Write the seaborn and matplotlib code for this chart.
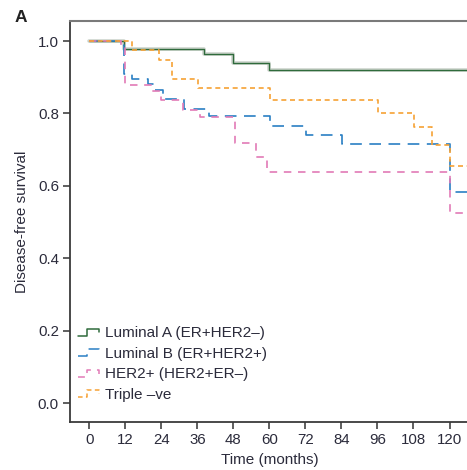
import matplotlib
matplotlib.use("Agg")
import matplotlib.pyplot as plt
import matplotlib.patheffects as pe
from matplotlib.lines import Line2D
from matplotlib.legend_handler import HandlerBase
import pandas as pd
import seaborn as sns

# Kaplan-Meier step estimates: event times (months) and survival after each step
groups = ["Luminal A (ER+HER2–)", "Luminal B (ER+HER2+)", "HER2+ (HER2+ER–)", "Triple –ve"]

lumA_t = [0, 11.5, 38.3, 48.0, 60.0, 127]
lumA_s = [1.0, 0.977, 0.965, 0.940, 0.921, 0.921]

lumB_t = [0, 10.0, 11.5, 14.3, 19.4, 21.4, 24.4, 31.4, 40.0, 60.2, 72.2, 84.2, 120.2, 127]
lumB_s = [1.0, 0.989, 0.909, 0.896, 0.881, 0.865, 0.839, 0.812, 0.793, 0.765, 0.740, 0.715, 0.584, 0.584]

her2_t = [0, 10.6, 12.0, 21.0, 23.8, 31.1, 37.0, 48.4, 55.4, 59.3, 120.2, 127]
her2_s = [1.0, 0.985, 0.878, 0.862, 0.837, 0.810, 0.789, 0.719, 0.680, 0.637, 0.526, 0.526]

tneg_t = [0, 14.3, 23.3, 27.7, 36.1, 60.2, 96.2, 108.3, 114.2, 120.2, 127]
tneg_s = [1.0, 0.975, 0.949, 0.896, 0.871, 0.836, 0.800, 0.762, 0.713, 0.656, 0.656]

x_ticks = [0, 12, 24, 36, 48, 60, 72, 84, 96, 108, 120]
y_ticks = [0.0, 0.2, 0.4, 0.6, 0.8, 1.0]

frames = []
for name, t, s in zip(groups, [lumA_t, lumB_t, her2_t, tneg_t], [lumA_s, lumB_s, her2_s, tneg_s]):
    frames.append(pd.DataFrame({"time": t, "surv": s, "group": name}))
df = pd.concat(frames, ignore_index=True)

colors = {groups[0]: "#2f6b3c", groups[1]: "#2a7fc4", groups[2]: "#e27ab6", groups[3]: "#f6a235"}
dashes = {groups[0]: "", groups[1]: (7, 4.5), groups[2]: (4.5, 4), groups[3]: (3, 2.2)}

sns.set_style("ticks")
plt.rcParams["font.family"] = ["Liberation Sans", "DejaVu Sans"]

fig = plt.figure(figsize=(4.67, 4.70), dpi=100)
ax = fig.add_axes([0.150, 0.102, 0.855, 0.853])

sns.lineplot(data=df, x="time", y="surv", hue="group", style="group",
             palette=colors, dashes=dashes, estimator=None, sort=False,
             drawstyle="steps-post", linewidth=1.2, legend=False, ax=ax)

# soft halo around the solid Luminal A curve
ax.lines[0].set_linewidth(1.0)
ax.lines[0].set_path_effects([pe.Stroke(linewidth=2.6, foreground="#cdd4cd"), pe.Normal()])

ax.set_xlim(-6.4, 126.6)
ax.set_ylim(-0.0525, 1.055)
ax.set_xticks(x_ticks)
ax.set_yticks(y_ticks)
ax.set_yticklabels([f"{v:.1f}" for v in y_ticks])

txt = "#2b2b3b"
ax.tick_params(axis="both", direction="out", length=5, width=1.1, color="#333333",
               labelsize=10.8, labelcolor=txt, pad=3)
ax.set_xlabel("Time (months)", fontsize=11, color=txt, labelpad=4)
ax.set_ylabel("Disease-free survival", fontsize=11, color=txt, labelpad=6)

for side in ["left", "bottom"]:
    ax.spines[side].set_color("#3a3a3a")
    ax.spines[side].set_linewidth(1.3)
ax.spines["top"].set_visible(True)
ax.spines["top"].set_color("#7a7a7a")
ax.spines["top"].set_linewidth(1.5)
ax.spines["right"].set_visible(False)


class StepHandler(HandlerBase):
    def create_artists(self, legend, orig, xd, yd, width, height, fontsize, trans):
        xs = [xd, xd + 0.4 * width, xd + 0.4 * width, xd + width, xd + width]
        ys = [yd + 0.15 * height, yd + 0.15 * height, yd + 0.8 * height,
              yd + 0.8 * height, yd + 0.45 * height]
        ln = Line2D(xs, ys, color=orig.get_color(), linewidth=1.1)
        d = orig.get_gid()
        if d:
            ln.set_dashes(d)
        ln.set_transform(trans)
        return [ln]


handles = []
for g in groups:
    h = Line2D([], [], color=colors[g])
    h.set_gid(dashes[g] if dashes[g] else None)
    handles.append(h)

ax.legend(handles, groups, handler_map={Line2D: StepHandler()}, loc="lower left",
          bbox_to_anchor=(0.02, 0.05), frameon=False, fontsize=11,
          handlelength=1.4, handletextpad=0.35, labelspacing=0.43, borderpad=0,
          borderaxespad=0, labelcolor=txt)

fig.text(0.032, 0.978, "A", fontsize=12.5, fontweight="bold", color="#222222",
         ha="left", va="top")

fig.savefig("out.png", dpi=100)
